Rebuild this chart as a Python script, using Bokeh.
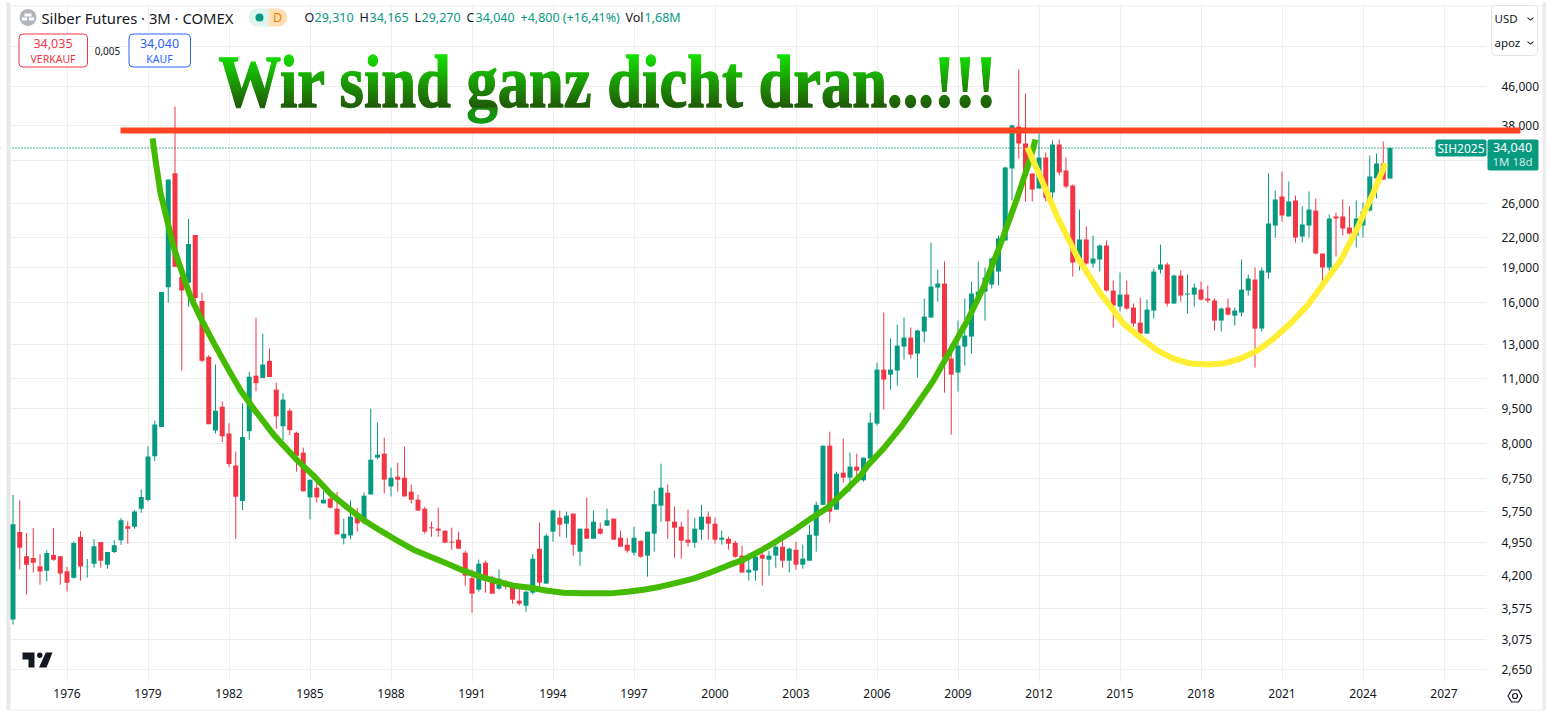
import math
from bokeh.plotting import figure
from bokeh.document import Document
from bokeh.embed import file_html
from bokeh.resources import INLINE
from bokeh.models import (BoxAnnotation, Label, PolyAnnotation, Range1d, FixedTicker,
                          NumeralTickFormatter, ColumnDataSource, CustomJS, Span)

opens = [3389,5201,4620,4580,4400,4302,4645,4620,4293,4160,
 5076,4394,4454,4953,4432,4718,4997,5349,5338,5826,
 6083,7538,8695,17220,30100,18100,17600,22240,16100,12255,
 8545,9604,8420,7205,6050,8515,11175,11050,12020,10440,
 8725,9418,8450,7667,6160,6460,5982,6122,5832,5040,
 5115,5690,5450,6250,7483,7630,6500,6818,6785,6335,
 6092,5830,5320,5287,5235,4960,5009,4700,4150,3922,
 4476,4165,3941,4085,4040,3717,3627,3865,4794,4040,
 5209,5579,5417,5690,4723,5287,5032,5287,5364,5552,
 5058,4887,4700,4984,4632,5158,5916,6304,5470,5338,
 5009,4936,5260,5606,5417,5009,5032,4936,4632,4265,
 4305,4654,4543,4632,4840,4520,4770,4432,4520,5108,
 5940,7935,5803,6953,6785,7160,6700,7446,8836,11512,
 11233,11455,12883,13463,12449,13864,14849,17197,17540,12148,
 11344,12883,13529,16540,16863,17454,18598,21646,30793,37820,
 34800,30050,27924,32497,27380,34630,30493,28334,19625,21752,
 19344,19725,21120,16946,15669,16615,15593,14489,13729,15366,
 18778,19250,15902,18238,16615,16615,17030,16297,16138,14632,
 15593,14993,15216,16946,17885,14070,18508,23297,26848,24344,
 26329,22073,23297,25070,20312,18966,24344,24344,23068,22180,
 23297,25070,29323,31555,29310]
highs = [6233,6075,5173,5302,4667,4757,5302,4620,4385,4970,
 5220,4554,5024,4953,4718,4997,5568,5481,5785,6410,
 7900,8967,16820,29180,41670,18100,24050,22240,16770,12360,
 11800,9842,8850,7709,9760,11380,14840,13720,12760,10805,
 10250,9520,8498,7858,6718,6630,6366,6304,6325,5552,
 6062,5850,6304,9510,8880,8250,7125,7300,7896,6555,
 6243,5887,5470,5858,5235,5312,5209,4746,4325,4542,
 4520,4195,4330,4119,4045,3935,3900,4670,5445,5158,
 5803,5775,5745,5690,5287,6152,5775,5445,5830,5552,
 5235,5058,5338,4984,5209,6366,7266,6555,5887,5470,
 5803,5579,5940,5745,5579,5235,5083,4984,4864,4565,
 4640,4794,4746,4912,5133,4817,4960,4887,5390,6033,
 7935,8498,6987,8212,7667,7630,7483,9327,11913,15216,
 13398,14349,14849,14139,14001,16297,21436,18778,19531,13074,
 14632,16297,17709,19531,18966,19920,22180,31095,38194,50000,
 44454,30050,36550,33300,35315,35490,32497,28474,25192,23181,
 22180,21225,21646,17797,18508,17797,15902,16376,16217,18875,
 21225,19437,18328,18689,18328,17540,17709,17367,16297,15593,
 16297,15593,19725,18328,18966,18966,30050,27650,30343,28894,
 26979,25565,27513,26587,20312,24585,24825,26458,25565,26329,
 26070,32815,33140,35143,34165]
lows = [3309,4331,3827,4265,4019,4083,4518,4019,3888,4139,
 4098,4160,4368,4368,4346,4693,4885,4912,5284,5714,
 6033,7355,8695,15990,19040,11465,15670,15900,11930,8815,
 8420,8080,7150,5030,5790,8165,10350,11050,11100,8620,
 8150,8355,6987,6345,5532,6010,5982,5832,5140,4895,
 5015,5209,5400,6250,7420,6280,6190,6335,6190,5975,
 5775,5158,5083,5083,4936,4770,4794,4000,3505,3884,
 3865,3846,3922,3928,3662,3627,3522,3827,3960,4040,
 4960,5083,5058,4632,4411,5032,5032,5133,5364,5009,
 4840,4700,4632,4587,4180,4723,5470,5032,4587,4565,
 4840,4817,5009,5009,4912,4887,4770,4587,4265,4098,
 4098,4000,4200,4368,4368,4265,4325,4346,4520,4723,
 5940,5445,5803,6620,6335,6847,6650,7446,8750,9465,
 10438,10644,12089,12148,11069,13138,14849,16058,10286,8374,
 10336,11739,12449,15900,14632,17113,17367,21646,26329,32336,
 26199,26199,27924,26199,26458,29757,27924,18148,18689,19250,
 18966,18598,16863,14139,15290,15441,14208,13463,13729,14777,
 18418,15669,15902,16058,15141,15669,16138,15980,13933,13864,
 14993,14278,14921,16535,11625,13864,17974,21966,23755,24344,
 21436,21436,21966,20214,17709,18689,20015,22180,22300,20918,
 21966,24947,26587,29180,29270]
closes = [5403,4817,4432,4476,4287,4693,4540,4245,4058,4926,
 4394,4400,4852,4518,4718,4876,5508,5284,5753,6170,
 7523,8802,16820,29180,19040,16950,21280,16340,12020,8815,
 9418,8308,7255,6178,8276,11113,10770,11800,11100,9158,
 9940,8560,7550,6345,6718,6160,6092,5858,5140,5158,
 5606,5425,6212,7410,7590,6720,6785,6718,6190,6092,
 5775,5209,5295,5235,4936,4936,4794,4200,3846,4454,
 4098,3846,4140,3980,3735,3662,3884,4565,4060,5108,
 5775,5390,5634,4887,5287,5032,5470,5158,5508,5009,
 4840,4746,5058,4609,5209,5960,6460,5481,5312,4984,
 4936,5287,5606,5417,5009,5058,4912,4609,4265,4325,
 4609,4565,4632,4840,4520,4794,4432,4565,5133,5940,
 7935,5745,6919,6785,7160,7020,7483,8880,11512,10960,
 11512,12947,13463,12388,13933,14921,17281,17540,12207,11233,
 12947,13596,16700,16863,18060,19820,21860,30944,38007,34800,
 30050,27786,32497,26700,34630,30194,28195,19437,21752,19344,
 19820,21120,16946,15747,16615,15517,14419,13729,15441,18598,
 19250,15902,18238,16535,16700,17197,16217,16138,14632,15517,
 15066,15366,17030,17974,14070,18689,23526,26458,24465,26199,
 21966,23410,25192,20312,18966,24110,24110,22957,22400,24110,
 24947,29610,31555,29180,34040]
quarters = [1974 + k / 4 for k in range(len(closes))]

green_years = [1979.17,1979.28,1979.46,1979.72,1979.94,1980.20,1980.57,1980.94,1981.43,1981.94,
 1982.43,1982.91,1983.65,1984.54,1985.13,1985.76,1986.39,1986.98,1987.61,1988.24,
 1988.83,1989.46,1990.09,1990.69,1991.31,1991.94,1992.54,1993.17,1993.80,1994.39,
 1995.02,1996.13,1996.76,1997.35,1997.98,1998.61,1999.20,1999.83,2000.46,2001.06,
 2001.69,2002.31,2002.91,2003.54,2004.17,2004.76,2005.39,2005.65,2006.24,2006.87,
 2007.50,2008.09,2008.72,2009.35,2009.94,2010.57,2011.20,2011.69,2011.87]
green_prices = [35665,32023,27380,23755,21019,18966,16456,14849,13138,11625,
 10387,9511,8374,7373,6852,6273,5858,5517,5235,4984,
 4770,4609,4454,4305,4180,4079,4000,3960,3903,3865,
 3852,3852,3884,3922,3980,4059,4139,4265,4411,4543,
 4746,4984,5235,5552,5858,6304,6852,7195,7820,8665,
 9745,10908,12633,14632,17197,21226,26716,32497,35490]
yellow_years = [2011.57,2012.06,2012.69,2013.43,2014.28,2014.54,2015.13,2015.76,2016.39,2016.98,
 2017.61,2018.24,2018.83,2019.46,2020.09,2020.69,2021.31,2021.94,2022.54,2023.17,
 2023.80,2024.39,2024.83]
yellow_prices = [34123,29465,24224,19917,16700,15980,14419,13463,12633,12148,
 11855,11797,11855,12148,12633,13398,14419,15747,17540,19625,
 23068,27380,31555]

y_ticks = [2650,3075,3575,4200,4950,5750,6750,8000,9500,11000,13000,16000,19000,22000,26000,32000,38000,46000,56000]
x_ticks = [1976,1979,1982,1985,1988,1991,1994,1997,2000,2003,2006,2009,2012,2015,2018,2021,2024,2027]

UP, DOWN = "#089981", "#f23645"
INK = "#131722"
FONT = "Noto Sans"

W, H = 1546, 712
PANE_R, PANE_B = 1486, 681     # where the price pane ends on the page
PX_YEAR = 27.0
PX_LN = 204.4


def year_at(x):
    return 1976 + (x - 66.5) / PX_YEAR


def price_at(y):
    return 38000 * math.exp((125 - y) / PX_LN)


p = figure(width=W, height=H, frame_width=W, frame_height=H,
           min_border_left=0, min_border_right=0, min_border_top=0, min_border_bottom=0,
           x_range=Range1d(year_at(0), year_at(W)), y_range=Range1d(price_at(H), price_at(0)),
           y_axis_type="log", y_axis_location="right", output_backend="svg", toolbar_location=None,
           background_fill_color="white", border_fill_color="white", outline_line_color=None)

for ax in (p.xaxis[0], p.yaxis[0]):
    ax.axis_line_color = None
    ax.major_tick_line_color = None
    ax.minor_tick_line_color = None
    ax.major_label_text_color = INK
    ax.major_label_text_font = FONT
    ax.major_label_text_font_size = "12px"
p.xaxis[0].ticker = FixedTicker(ticks=x_ticks)
p.xaxis[0].formatter = NumeralTickFormatter(format="0")
p.xaxis[0].major_label_standoff = 1
p.xaxis[0].fixed_location = price_at(PANE_B)
p.yaxis[0].ticker = FixedTicker(ticks=y_ticks)
p.yaxis[0].formatter = NumeralTickFormatter(format="0,0")
p.yaxis[0].major_label_standoff = 9
p.yaxis[0].major_label_overrides = {32000: "", 56000: ""}
p.yaxis[0].fixed_location = year_at(PANE_R)
p.xgrid[0].ticker = FixedTicker(ticks=x_ticks)
p.ygrid[0].ticker = FixedTicker(ticks=y_ticks)
p.xgrid[0].grid_line_color = "#eeeeee"
p.ygrid[0].grid_line_color = "#eeeeee"
p.ygrid[0].minor_grid_line_color = None
p.xgrid[0].level = "image"
p.ygrid[0].level = "image"

colors = [UP if c >= o else DOWN for o, c in zip(opens, closes)]
src = ColumnDataSource(dict(t=quarters, o=opens, h=highs, l=lows, c=closes, color=colors,
                            top=[max(a, b) for a, b in zip(opens, closes)],
                            bot=[min(a, b) for a, b in zip(opens, closes)]))
p.segment("t", "h", "t", "l", source=src, line_color="color", line_width=1)
p.vbar("t", width=5 / PX_YEAR, top="top", bottom="bot", source=src, fill_color="color", line_color=None)

p.add_layout(Span(location=closes[-1], dimension="width", line_color=UP, line_width=1.3,
                  line_dash="1 2", level="underlay"))
p.line(green_years, green_prices, line_color="#44bb00", line_width=6, line_join="round")
p.line(yellow_years, yellow_prices, line_color="#ffee33", line_width=6, line_join="round")


def SX(x):
    return x


def SY(y):
    return H - y


def box(a, b, c, d, fill, line=None, radius=0, lw=1, level="annotation"):
    p.add_layout(BoxAnnotation(left=SX(a), right=SX(c), top=SY(b), bottom=SY(d),
                               left_units="screen", right_units="screen", top_units="screen", bottom_units="screen",
                               fill_color=fill, fill_alpha=1, line_color=line, line_alpha=1, line_width=lw,
                               border_radius=radius, level=level))


def label(x, y, text, color=INK, size=12.5, align="left", style="normal", font=FONT, base="middle"):
    p.add_layout(Label(x=SX(x), y=SY(y), x_units="screen", y_units="screen", text=text, text_color=color,
                       text_font=font, text_font_size=f"{size}px", text_align=align, text_baseline=base,
                       text_font_style=style, level="annotation"))


def poly(pts, fill, line=None, lw=1):
    p.add_layout(PolyAnnotation(xs=[SX(a) for a, b in pts], ys=[SY(b) for a, b in pts],
                                xs_units="screen", ys_units="screen", fill_color=fill,
                                fill_alpha=1 if fill else 0, line_color=line, line_alpha=1, line_width=lw,
                                level="annotation"))


# masks that end the grid where the pane ends, and the page edges
box(PANE_R, 0, W, H, "white", level="underlay")
box(0, PANE_B, W, H, "white", level="underlay")
box(0, 0, 10, H, "white", level="underlay")
box(0, 0, W, 5, "white", level="underlay")
box(6, 2, 10, 710, "#e8e8e8", level="underlay")
box(1542, 2, 1546, 710, "#ececec", level="underlay")
box(10, 5, 1542, 6, "#eeeeee", level="underlay")
box(10, 709, 1542, 710, "#eeeeee", level="underlay")

# horizontal resistance line
box(120, 127, 1520, 133, "#ff4422")

# header
box(19, 8.5, 36, 25.5, "#b2b5be", radius=9)
box(24, 13, 31, 16, "white")
box(21.5, 17, 26.5, 20, "white")
box(28.5, 17, 33.5, 20, "white")
label(41, 17, "Silber Futures · 3M · COMEX", size=14.8)
box(248, 8, 268, 26, "#dff3ef", radius=(9, 0, 0, 9))
box(268, 8, 287, 26, "#ffdfb3", radius=(0, 9, 9, 0))
box(255, 13, 263, 21, UP, radius=4)
label(277, 17, "D", color="#f57c00", size=12.5, align="center")
for x, s in [(304, "O"), (359, "H"), (414, "L"), (466, "C"), (625, "Vol")]:
    label(x, 17, s)
for x, s in [(314, "29,310"), (369, "34,165"), (421, "29,270"), (475, "34,040"), (520, "+4,800 (+16,41%)"), (644, "1,68M")]:
    label(x, 17, s, color=UP)

# buy / sell boxes
box(18.5, 33.5, 87, 66.5, "white", line=DOWN, radius=4)
label(52.5, 43, "34,035", color=DOWN, size=12.5, align="center")
label(52.5, 58, "VERKAUF", color=DOWN, size=10.5, align="center")
label(107, 50, "0,005", color=INK, size=10, align="center")
box(128.5, 33.5, 190, 66.5, "white", line="#2962ff", radius=4)
label(159, 43, "34,040", color="#2962ff", size=12.5, align="center")
label(159, 58, "KAUF", color="#2962ff", size=10.5, align="center")

# big headline
label(218, 81, "Wir sind ganz dicht dran...!!!", color="#18a00a", size=75, style="bold",
      font="Liberation Serif", base="alphabetic")

# price scale controls
box(1491, 5, 1537, 55, "white", line="#e0e3eb", radius=4)
label(1494, 18, "USD", size=11.5)
label(1494, 42, "apoz", size=11.5)
for yy in (18, 42):
    poly([(1527, yy - 1.5), (1530, yy + 1), (1533, yy - 1.5), (1533, yy - 0.3), (1530, yy + 2.2), (1527, yy - 0.3)], INK)

# last price tags
box(1435, 139, 1486, 156, UP, radius=2)
label(1460.5, 147.5, "SIH2025", color="white", size=12, align="center")
box(1487, 139, 1538, 170, UP, radius=2)
label(1512, 147, "34,040", color="white", size=12.5, align="center")
label(1512, 161, "1M 18d", color="#cdeae5", size=11.5, align="center")

# TradingView mark
poly([(22, 652), (34, 652), (34, 667), (28, 667), (28, 659), (22, 659)], INK)
box(36.6, 652, 42, 657.4, INK, radius=3)
poly([(45.3, 652), (52, 652), (46, 667), (38.5, 667)], INK)

# settings icon
poly([(1507.5, 695.5), (1511, 689.5), (1518, 689.5), (1521.5, 695.5), (1518, 701.5), (1511, 701.5)], None, line=INK, lw=1.2)
box(1512, 693, 1517, 698, "white", line=INK, radius=3, lw=1.2)

gradient = CustomJS(code="""
function apply() {
  function walk(root) {
    root.querySelectorAll('*').forEach((el) => {
      if (el.shadowRoot) walk(el.shadowRoot);
      if (el.tagName.toLowerCase() === 'text' && el.textContent.startsWith('Wir sind') && !el.getAttribute('textLength')) {
        const svg = el.ownerSVGElement, ns = 'http://www.w3.org/2000/svg';
        if (!svg.querySelector('#headline-grad')) {
          const g = document.createElementNS(ns, 'linearGradient');
          g.setAttribute('id', 'headline-grad');
          g.setAttribute('x1', '0'); g.setAttribute('y1', '0');
          g.setAttribute('x2', '0'); g.setAttribute('y2', '1');
          [[0.18, '#14e000'], [0.80, '#205a08'], [0.83, '#1a8a10'], [1, '#129a10']].forEach(([o, c]) => {
            const s = document.createElementNS(ns, 'stop');
            s.setAttribute('offset', o); s.setAttribute('stop-color', c);
            g.appendChild(s);
          });
          svg.appendChild(g);
        }
        el.setAttribute('fill', 'url(#headline-grad)');
        el.style.fill = 'url(#headline-grad)';
        el.style.stroke = 'url(#headline-grad)';
        el.style.strokeWidth = '1.3px';
        el.setAttribute('textLength', '778');
        el.setAttribute('lengthAdjust', 'spacingAndGlyphs');
      }
    });
  }
  walk(document);
}
apply();
setInterval(apply, 150);
""")

doc = Document()
doc.add_root(p)
doc.js_on_event("document_ready", gradient)

open("out.html", "w").write(file_html(p, INLINE))
